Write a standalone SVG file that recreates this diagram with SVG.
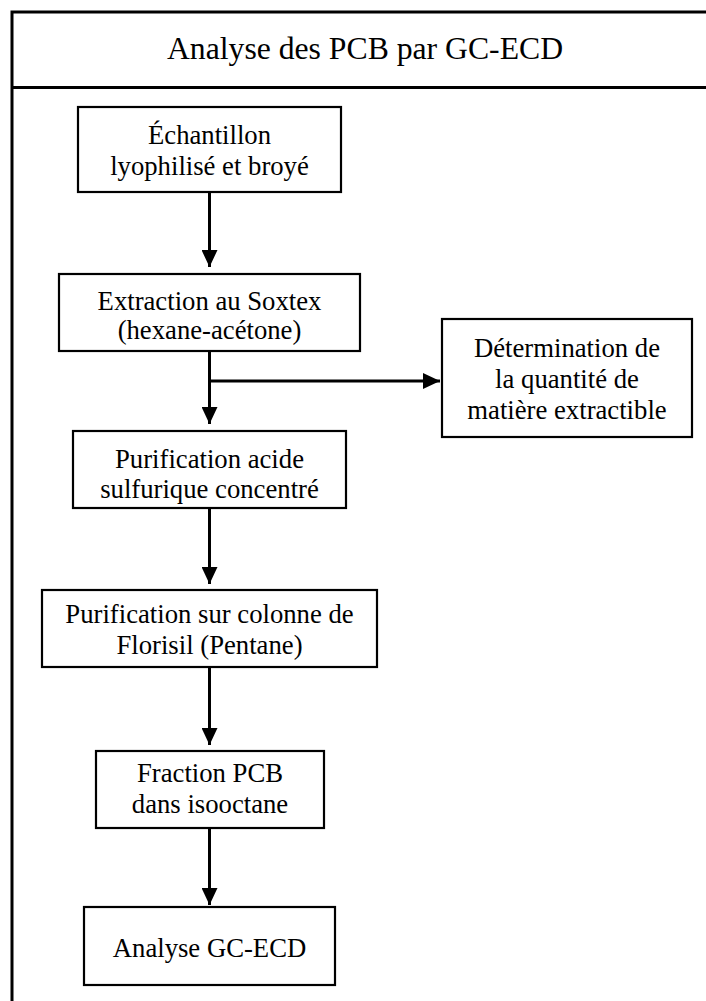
<svg xmlns="http://www.w3.org/2000/svg" width="706" height="1001" viewBox="0 0 706 1001">
  <defs>
    <style>
      .frame { fill: none; stroke: #000; stroke-width: 3; }
      .box { fill: #fff; stroke: #000; stroke-width: 2.2; }
      .lbl { font-family: "Liberation Serif", "Times New Roman", serif; font-size: 26.7px; fill: #000; text-anchor: middle; }
      .title { font-family: "Liberation Serif", "Times New Roman", serif; font-size: 31.7px; fill: #000; text-anchor: middle; }
      .conn { fill: none; stroke: #000; stroke-width: 3; }
    </style>
    <marker id="ah" markerUnits="userSpaceOnUse" markerWidth="18" markerHeight="16" refX="17" refY="8" orient="auto" viewBox="0 0 18 16">
      <path d="M0,0 L17,8 L0,16 Z" fill="#000"/>
    </marker>
  </defs>
  <rect width="706" height="1001" fill="#fff"/>
  <g id="frame">
    <path class="frame" d="M12,1001 L12,12 L706,12"/>
    <path class="frame" d="M12,87.5 L706,87.5"/>
    <text class="title" x="365" y="59">Analyse des PCB par GC-ECD</text>
  </g>
  <g id="connectors">
    <path class="conn" d="M209.5,192 L209.5,267" marker-end="url(#ah)"/>
    <path class="conn" d="M209.5,351 L209.5,424" marker-end="url(#ah)"/>
    <path class="conn" d="M209.5,381 L440,381" marker-end="url(#ah)"/>
    <path class="conn" d="M209.5,508 L209.5,584" marker-end="url(#ah)"/>
    <path class="conn" d="M209.5,667 L209.5,745" marker-end="url(#ah)"/>
    <path class="conn" d="M209.5,828 L209.5,905" marker-end="url(#ah)"/>
  </g>
  <g id="n1">
    <rect class="box" x="78" y="107" width="263" height="85"/>
    <text class="lbl" x="209.5" y="144">Échantillon</text>
    <text class="lbl" x="209.5" y="175">lyophilisé et broyé</text>
  </g>
  <g id="n2">
    <rect class="box" x="59" y="274" width="301" height="77"/>
    <text class="lbl" x="209.5" y="310">Extraction au Soxtex</text>
    <text class="lbl" x="209.5" y="339">(hexane-acétone)</text>
  </g>
  <g id="n3">
    <rect class="box" x="442" y="319" width="250" height="118"/>
    <text class="lbl" x="567" y="357">Détermination de</text>
    <text class="lbl" x="567" y="388">la quantité de</text>
    <text class="lbl" x="567" y="419">matière extractible</text>
  </g>
  <g id="n4">
    <rect class="box" x="73" y="431" width="273" height="77"/>
    <text class="lbl" x="209.5" y="468">Purification acide</text>
    <text class="lbl" x="209.5" y="498">sulfurique concentré</text>
  </g>
  <g id="n5">
    <rect class="box" x="42" y="590" width="335" height="77"/>
    <text class="lbl" x="209.5" y="623">Purification sur colonne de</text>
    <text class="lbl" x="209.5" y="654">Florisil (Pentane)</text>
  </g>
  <g id="n6">
    <rect class="box" x="96" y="751" width="228" height="77"/>
    <text class="lbl" x="210" y="782">Fraction PCB</text>
    <text class="lbl" x="210" y="813">dans isooctane</text>
  </g>
  <g id="n7">
    <rect class="box" x="84" y="907" width="251" height="78"/>
    <text class="lbl" x="209.5" y="957">Analyse GC-ECD</text>
  </g>
</svg>
